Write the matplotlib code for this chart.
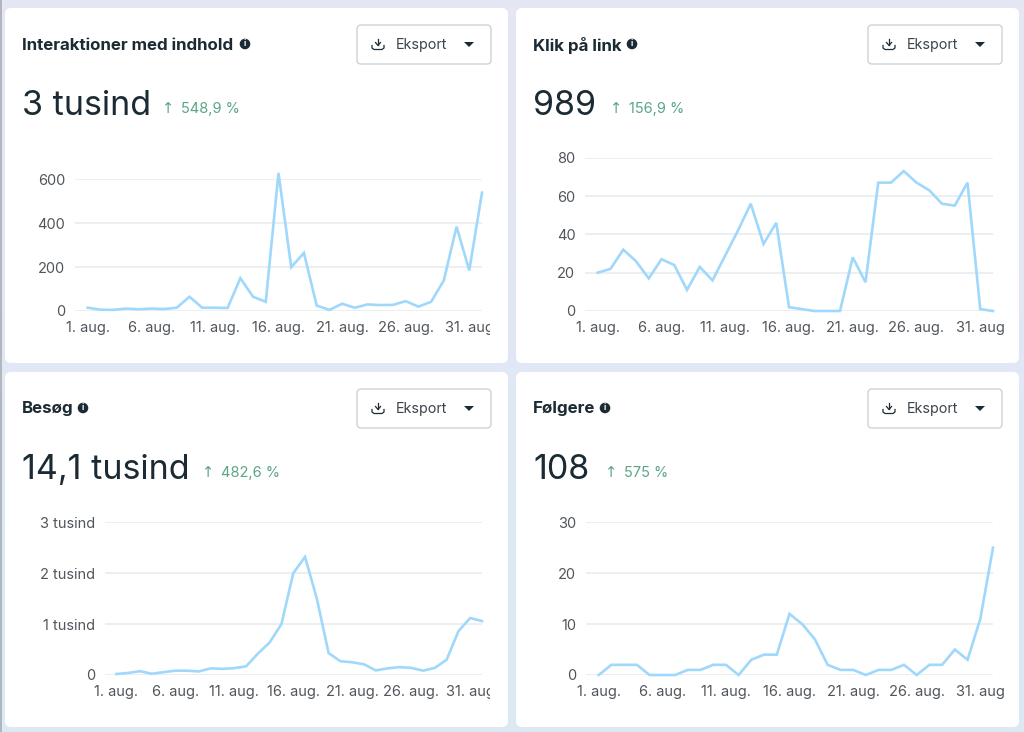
"""
Four dashboard cards with daily line charts
"""
from matplotlib import pyplot as plt
from matplotlib.patches import Circle, FancyBboxPatch, Polygon
from matplotlib.transforms import Bbox
import numpy as np

plt.rcParams['font.family'] = ['Inter', 'Noto Sans', 'DejaVu Sans']

W, H = 1024, 732

days = list(range(1, 33))
tick_days = [1, 6, 11, 16, 21, 26, 31]
tick_labels = ['1. aug.', '6. aug.', '11. aug.', '16. aug.', '21. aug.', '26. aug.', '31. aug']

interaktioner = [15, 6, 5, 11, 8, 11, 9, 15, 65, 15, 15, 14, 150, 65, 42, 630,
                 200, 265, 25, 5, 33, 15, 30, 27, 28, 45, 20, 42, 140, 385, 185, 540]
klik = [20, 22, 32, 26, 17, 27, 24, 11, 23, 16, 29, 42, 56, 35, 46, 2,
        1, 0, 0, 0, 28, 15, 67, 67, 73, 67, 63, 56, 55, 67, 1, 0]
besoeg = [20, 40, 75, 25, 55, 85, 85, 70, 130, 120, 135, 170, 420, 640, 1000, 2000,
          2320, 1500, 430, 270, 250, 210, 90, 130, 155, 140, 85, 140, 300, 860, 1120, 1060]
foelgere = [0, 2, 2, 2, 0, 0, 0, 1, 1, 2, 2, 0, 3, 4, 4, 12,
            10, 7, 2, 1, 1, 0, 1, 1, 2, 0, 2, 2, 5, 3, 11, 25]

TEXT = '#1c2b33'
TICK = '#51565c'
GREEN = '#5aa585'
LINE = '#a0d8fc'
GRID = '#e8e9eb'


def add_chart(fig, left, right, y0, ytop, values, yticks, ylabels, clip_x):
    # axes placed in pixels, the y limit ends on the top gridline
    ax = fig.add_axes([left / W, 1 - y0 / H, (right - left) / W, (y0 - ytop) / H])
    ax.patch.set_alpha(0)
    ax.plot(days, values, color=LINE, lw=1.9, clip_on=False, zorder=3, solid_joinstyle='miter')
    ax.set_xlim(0, 32)
    ax.set_ylim(0, yticks[-1])
    ax.set_yticks(yticks)
    ax.set_yticklabels(ylabels)
    ax.set_xticks(tick_days)
    ax.set_xticklabels(tick_labels)
    ax.grid(axis='y', color=GRID, lw=1.1)
    ax.set_axisbelow(True)
    for s in ax.spines.values():
        s.set_visible(False)
    ax.tick_params(axis='both', length=0, labelsize=10.5, labelcolor=TICK)
    ax.tick_params(axis='x', pad=7)
    ax.tick_params(axis='y', pad=7)
    for lab in ax.get_xticklabels():
        lab.set_clip_box(Bbox([[0, 0], [clip_x, H]]))
        lab.set_clip_on(True)
    return ax


def add_card(bg, x, y, title, info_x, number, arrow_x, pct):
    bg.add_patch(FancyBboxPatch((x + 5, y + 5), 493, 345, boxstyle='round,pad=5,rounding_size=6',
                                fc='white', ec='none', zorder=1))
    bg.text(x + 17, y + 37, title, fontsize=12.2, fontweight='bold', color=TEXT, va='center', zorder=2)
    bg.add_patch(Circle((info_x, y + 36), 5.3, fc=TEXT, ec='none', zorder=2))
    bg.text(info_x, y + 36, 'i', fontsize=6, fontweight='bold', color='white', ha='center', va='center', zorder=3)
    bg.text(x + 17, y + 107, number, fontsize=24.5, color=TEXT, va='baseline', zorder=2)
    bg.text(arrow_x, y + 105, '↑', fontsize=10.5, color=GREEN, ha='center', va='baseline',
            family='DejaVu Sans', zorder=2)
    bg.text(arrow_x + 13, y + 105, pct, fontsize=10.5, color=GREEN, va='baseline', zorder=2)

    # export button
    bx = x + 352
    by = y + 17
    bg.add_patch(FancyBboxPatch((bx + 2, by + 2), 130, 35, boxstyle='round,pad=2,rounding_size=4',
                                fc='white', ec='#ced2d7', lw=1, zorder=2))
    bg.text(bx + 39, by + 20, 'Eksport', fontsize=10.3, color='#3a444c', va='center', zorder=3)
    ic = bx + 21
    cy = by + 19
    bg.plot([ic, ic], [cy - 5, cy + 1], color=TEXT, lw=0.9, zorder=3)
    bg.plot([ic - 2.5, ic, ic + 2.5], [cy - 1.5, cy + 1.5, cy - 1.5], color=TEXT, lw=0.9, zorder=3)
    bg.plot([ic - 6, ic - 6, ic - 4, ic + 4, ic + 6, ic + 6], [cy + 1.5, cy + 4, cy + 5.5, cy + 5.5, cy + 4, cy + 1.5],
            color=TEXT, lw=0.9, zorder=3)
    bg.add_patch(Polygon([[bx + 107, cy - 2], [bx + 117, cy - 2], [bx + 112, cy + 3]], fc=TEXT, ec='none', zorder=3))


fig = plt.figure(figsize=(W / 100, H / 100), dpi=100)

bg = fig.add_axes([0, 0, 1, 1])
bg.axis('off')
# soft page background, lavender at the top to pale blue lower down
shade = np.array([[[0.895, 0.905, 0.955]], [[0.86, 0.915, 0.96]]])
bg.imshow(shade, extent=[0, W, H, 0], aspect='auto', interpolation='bilinear', zorder=0)
bg.set_xlim(0, W)
bg.set_ylim(H, 0)
# screenshot edge on the left
bg.plot([0.5, 0.5], [0, H], color='#a9acb3', lw=1.2, zorder=1)

add_card(bg, 5, 8, 'Interaktioner med indhold', 245, '3 tusind', 168, '548,9 %')
add_card(bg, 516, 8, 'Klik på link', 632, '989', 616, '156,9 %')
add_card(bg, 5, 372, 'Besøg', 83, '14,1 tusind', 208, '482,6 %')
add_card(bg, 516, 372, 'Følgere', 605, '108', 611, '575 %')

add_chart(fig, 75, 482, 311, 179.5, interaktioner, [0, 200, 400, 600], ['0', '200', '400', '600'], 490)
add_chart(fig, 585, 993, 311, 157.7, klik, [0, 20, 40, 60, 80], ['0', '20', '40', '60', '80'], 1005)
add_chart(fig, 104.5, 482, 675, 522.3, besoeg, [0, 1000, 2000, 3000], ['0', '1 tusind', '2 tusind', '3 tusind'], 490)
add_chart(fig, 586, 993, 675, 522.3, foelgere, [0, 10, 20, 30], ['0', '10', '20', '30'], 1005)

fig.savefig('out.png', dpi=100)
